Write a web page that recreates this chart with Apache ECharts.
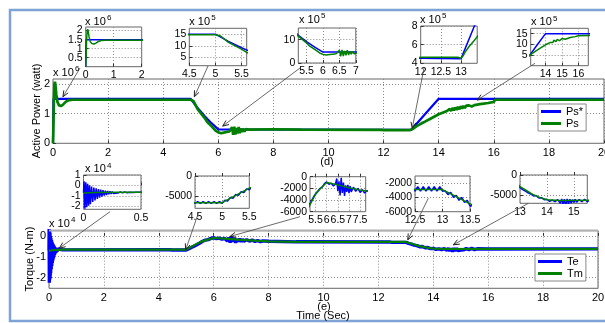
<!DOCTYPE html>
<html lang="en">
<head>
    <meta charset="UTF-8">
    <title>Active power and torque</title>
    <script src="https://cdn.jsdelivr.net/npm/echarts@6/dist/echarts.min.js"></script>
    <style>
        html, body { margin: 0; padding: 0; background: #fff; }
        #main { width: 605px; height: 323px; }
    </style>
</head>
<body>
<div id="main"></div>
<script>
    // time in s, power in W, torque in N-m

    // stator power reference Ps*
    var psRef = [[0, 0], [0.02, 1.5e6], [5, 1.5e6], [5.25, 1.19e6], [5.5, 0.92e6], [5.75, 0.68e6],
        [6, 0.47e6], [13, 0.45e6], [13.5, 0.98e6], [14, 1.5e6], [20, 1.5e6]];

    // measured stator power Ps
    var ps = [[0, 0], [0.01, 0.4e6], [0.03, 1.4e6], [0.05, 1.95e6], [0.07, 2.08e6], [0.09, 1.95e6],
        [0.12, 1.65e6], [0.16, 1.4e6], [0.22, 1.28e6], [0.3, 1.26e6], [0.38, 1.32e6], [0.46, 1.4e6],
        [0.55, 1.45e6], [0.7, 1.47e6], [5, 1.47e6], [5.1, 1.42e6], [5.25, 1.15e6], [5.5, 0.86e6],
        [5.6, 0.72e6], [5.75, 0.58e6], [5.9, 0.43e6], [6, 0.37e6], [6.1, 0.34e6], [6.2, 0.36e6],
        [6.3, 0.38e6], [6.4, 0.4e6], [6.45, 4.0e5], [6.5, 5.4e5], [6.54, 2.9e5], [6.58, 5.6e5],
        [6.62, 3.0e5], [6.66, 5.2e5], [6.7, 3.3e5], [6.74, 5.5e5], [6.78, 3.4e5], [6.82, 5.0e5],
        [6.86, 3.8e5], [6.9, 4.9e5], [6.95, 4.0e5], [7, 4.8e5], [7.05, 4.3e5], [7.1, 4.6e5],
        [8, 4.75e5], [9, 4.6e5], [11.9, 4.55e5], [11.96, 4.62e5], [12, 4.47e5], [12.04, 4.64e5],
        [12.08, 4.47e5], [12.12, 4.64e5], [12.16, 4.47e5], [12.2, 4.64e5], [12.24, 4.47e5],
        [12.28, 4.64e5], [12.32, 4.47e5], [12.36, 4.64e5], [12.4, 4.47e5], [12.44, 4.64e5],
        [12.48, 4.47e5], [12.52, 4.64e5], [12.56, 4.47e5], [12.6, 4.64e5], [12.64, 4.47e5],
        [12.68, 4.64e5], [12.72, 4.47e5], [12.76, 4.64e5], [12.8, 4.47e5], [12.84, 4.64e5],
        [12.88, 4.47e5], [12.92, 4.64e5], [12.96, 4.47e5], [13, 4.55e5], [13.05, 4.8e5],
        [13.1, 5.2e5], [13.2, 5.8e5], [13.3, 6.3e5], [13.4, 6.85e5], [13.5, 7.3e5], [13.7, 8.3e5],
        [14, 9.8e5], [14.3, 10.9e5], [14.4, 11.6e5], [14.45, 10.9e5], [14.5, 11.9e5], [14.55, 11.1e5],
        [14.6, 12.1e5], [14.65, 11.3e5], [14.7, 12.3e5], [14.75, 11.5e5], [14.8, 12.5e5],
        [14.85, 11.7e5], [14.9, 12.6e5], [14.95, 11.9e5], [15, 12.7e5], [15.05, 12.1e5],
        [15.1, 12.8e5], [15.2, 12.4e5], [15.3, 12.9e5], [15.5, 13.2e5], [15.8, 13.6e5],
        [16, 14.0e5], [16.05, 14.7e5], [20, 14.7e5]];

    // electromagnetic torque Te
    var te = [[0, -7000], [0.005, 4000], [0.012, -22500], [0.02, 3000], [0.028, -21000], [0.036, 1500],
        [0.044, -19500], [0.052, 0], [0.06, -18000], [0.07, -1000], [0.08, -16000], [0.09, -2000],
        [0.1, -14500], [0.11, -2800], [0.12, -13000], [0.13, -3500], [0.14, -11800], [0.15, -4000],
        [0.16, -10800], [0.17, -4500], [0.18, -9900], [0.19, -5000], [0.2, -9200], [0.21, -5400],
        [0.22, -8600], [0.23, -5700], [0.24, -8200], [0.25, -5900], [0.26, -7900], [0.27, -6100],
        [0.28, -7600], [0.29, -6200], [0.3, -7400], [0.32, -6300], [0.34, -7200], [0.36, -6400],
        [0.38, -7000], [0.4, -6500], [0.43, -6900], [0.46, -6600], [0.5, -6700], [4.4, -6650],
        [4.45, -6300], [4.5, -6800], [4.55, -6350], [4.6, -6800], [4.65, -6350], [4.7, -6800],
        [4.75, -6350], [4.8, -6800], [4.85, -6350], [4.9, -6800], [4.95, -6350], [5, -6750],
        [5.05, -6000], [5.1, -6200], [5.15, -5300], [5.2, -5500], [5.25, -4600], [5.3, -4800],
        [5.35, -3900], [5.4, -4100], [5.45, -3200], [5.5, -3400], [5.55, -2700], [5.6, -2600],
        [5.7, -2000], [5.8, -1800], [5.9, -1200], [6, -900], [6.1, -1300], [6.2, -1100], [6.3, -1600],
        [6.4, -1200], [6.45, -300], [6.5, -2500], [6.55, -800], [6.6, -3200], [6.65, -200],
        [6.7, -2800], [6.75, -1000], [6.8, -3300], [6.85, -1500], [6.9, -2600], [6.95, -1400],
        [7, -2800], [7.05, -1600], [7.1, -2600], [7.2, -1800], [7.3, -2500], [7.4, -2000],
        [7.5, -2700], [7.6, -2200], [7.7, -2800], [7.8, -2400], [8, -2600], [9, -2850], [12.4, -2900],
        [12.45, -2500], [12.5, -3100], [12.55, -2500], [12.6, -3100], [12.65, -2500], [12.7, -3100],
        [12.75, -2500], [12.8, -3100], [12.85, -2500], [12.9, -3100], [12.95, -2500], [13, -3100],
        [13.05, -3100], [13.1, -3600], [13.15, -3300], [13.2, -4000], [13.25, -3700], [13.3, -4400],
        [13.35, -4000], [13.4, -4700], [13.45, -4400], [13.5, -5200], [13.6, -5100], [13.7, -5700],
        [13.8, -5600], [13.9, -6100], [14, -6000], [14.1, -6500], [14.2, -6200], [14.3, -6600],
        [14.4, -6100], [14.5, -7000], [14.55, -5900], [14.6, -7300], [14.65, -6000], [14.7, -7500],
        [14.75, -5900], [14.8, -7200], [14.85, -6000], [14.9, -7000], [14.95, -6100], [15, -6800],
        [15.05, -6000], [15.1, -6700], [15.2, -6100], [15.3, -6600], [15.4, -6000], [15.5, -6600],
        [15.6, -6200], [16, -6300], [20, -6250]];

    // mechanical torque Tm
    var tm = [[0, -7200], [0.1, -6900], [0.3, -6700], [0.5, -6600], [5, -6600], [5.25, -4800],
        [5.5, -3000], [5.75, -1900], [6, -1000], [6.5, -1400], [7, -1900], [7.5, -2300], [8, -2600],
        [9, -2850], [13, -2900], [13.25, -3900], [13.5, -4900], [13.75, -5600], [14, -6100],
        [14.5, -6300], [16, -6250], [20, -6250]];

    // tick values (main plots, then insets top row, then insets bottom row)
    var mainTicksX = [0, 2, 4, 6, 8, 10, 12, 14, 16, 18, 20];
    var powerTicksY = [0, 1e6, 2e6];
    var torqueTicksY = [-2e4, -1e4, 0];
    var insetTicksX = [[0, 1, 2], [4.5, 5, 5.5], [5.5, 6, 6.5, 7], [12, 12.5, 13], [14, 15, 16],
        [0, 0.5], [4.5, 5, 5.5], [5.5, 6, 6.5, 7, 7.5], [12.5, 13, 13.5], [13, 14, 15]];
    var insetTicksY = [[5e5, 1e6, 1.5e6, 2e6], [5e5, 1e6, 1.5e6], [0, 1e6], [4e5, 6e5, 8e5], [5e5, 1e6, 1.5e6],
        [-2e4, -1e4, 0, 1e4], [-5000, 0], [-6000, -4000, -2000, 0], [-6000, -4000, -2000], [-5000, 0]];

    var FONT = 'Liberation Sans, Arial, sans-serif';
    var BLUE = '#0000ff', GREEN = '#008000';

    // layout: grid box [left, top, width, height], x range, y range, label scale
    var panels = [
        {box: [53, 79, 551, 64.3], x: [0, 20], y: [0, 2.17e6], xt: mainTicksX, yt: powerTicksY, k: 1e6, kind: 'p', lw: [2.2, 2.7]},
        {box: [49, 230.7, 549, 57.6], x: [0, 20], y: [-2.52e4, 0.25e4], xt: mainTicksX, yt: torqueTicksY, k: 1e4, kind: 't', lw: [3.4, 2.2]},
        {box: [85.7, 27, 56, 39.7], x: [0, 2], y: [0, 2.2e6], k: 1e6, kind: 'p'},
        {box: [189.3, 28.3, 57.4, 37.4], x: [4.5, 5.6], y: [1.5e5, 17.5e5], k: 1e5, kind: 'p'},
        {box: [298.3, 28, 57.5, 35], x: [5.25, 7], y: [0, 15e5], k: 1e5, kind: 'p'},
        {box: [420.7, 26, 56.5, 37.3], x: [12, 13.4], y: [4e5, 8e5], k: 1e5, kind: 'p'},
        {box: [530.7, 28.3, 57.6, 37.4], x: [13.1, 16.6], y: [0, 17.5e5], k: 1e5, kind: 'p'},
        {box: [83.5, 175, 57.5, 34.3], x: [0, 0.5], y: [-2.3e4, 1e4], k: 1e4, kind: 't'},
        {box: [195, 176, 54.3, 32.3], x: [4.5, 5.5], y: [-8000, 0], k: 1, kind: 't'},
        {box: [310, 176.7, 55.7, 35], x: [5.25, 7.75], y: [-6000, 0], k: 1, kind: 't'},
        {box: [415, 176, 55, 35.7], x: [12.5, 13.5], y: [-6000, -1000], k: 1, kind: 't'},
        {box: [520, 175, 67.3, 28.3], x: [13, 15.5], y: [-7000, 0], k: 1, kind: 't'}
    ];
    panels.forEach(function (p, i) {
        if (i >= 2) {
            p.xt = insetTicksX[i - 2];
            p.yt = insetTicksY[i - 2];
            p.lw = [1.5, 1.5];
        }
    });

    function fmt(k) {
        return function (v) { return String(+(v / k).toFixed(3)); };
    }

    var grids = [], xAxes = [], yAxes = [], series = [];
    panels.forEach(function (p, i) {
        grids.push({
            left: p.box[0], top: p.box[1], width: p.box[2], height: p.box[3],
            show: true, backgroundColor: '#fff', borderColor: '#666', borderWidth: 1,
            outerBoundsMode: 'none', containLabel: false
        });
        var common = {
            gridIndex: i,
            axisLine: {show: false},
            axisTick: {show: true, inside: true, length: 3, lineStyle: {color: '#333'}},
            splitLine: {show: true, lineStyle: {color: '#8a8a8a', width: 1, type: [1, 2]}},
            axisLabel: {fontFamily: FONT, fontSize: i < 2 ? 11 : 10.5, color: '#000', margin: 3,
                interval: 0, hideOverlap: false, showMinLabel: true, showMaxLabel: true},
            splitArea: {show: false}
        };
        xAxes.push(echarts.util.merge({
            type: 'value', min: p.x[0], max: p.x[1],
            axisTick: {customValues: p.xt},
            axisLabel: {customValues: p.xt, formatter: fmt(1), margin: i < 2 ? 4 : 3}
        }, common));
        // inset y labels are crowded: they are placed below through the same axis scale
        yAxes.push(echarts.util.merge({
            type: 'value', min: p.y[0], max: p.y[1],
            axisTick: {customValues: p.yt},
            axisLabel: {show: i < 2, customValues: p.yt, formatter: fmt(p.k)}
        }, common));

        var pair = p.kind === 'p'
            ? [['Ps*', psRef, BLUE], ['Ps', ps, GREEN]]
            : [['Te', te, BLUE], ['Tm', tm, GREEN]];
        pair.forEach(function (s, j) {
            series.push({
                name: s[0], type: 'line', xAxisIndex: i, yAxisIndex: i,
                data: s[1], showSymbol: false, symbol: 'none', clip: true,
                lineStyle: {color: s[2], width: p.lw[j]}, itemStyle: {color: s[2]},
                emphasis: {disabled: true}, animation: false
            });
        });
    });

    function legendAt(names, left, top, w) {
        return {
            data: names, left: left, top: top, orient: 'vertical', icon: 'rect',
            itemWidth: w, itemHeight: 3, itemGap: 1, padding: [2, 3, 2, 3],
            borderColor: '#888', borderWidth: 1, backgroundColor: '#fff',
            selectedMode: false, textStyle: {fontFamily: FONT, fontSize: 11, color: '#000'}
        };
    }

    var chart = echarts.init(document.getElementById('main'), null, {renderer: 'canvas'});
    chart.setOption({
        animation: false,
        backgroundColor: '#fff',
        grid: grids,
        xAxis: xAxes,
        yAxis: yAxes,
        legend: [legendAt(['Ps*', 'Ps'], 538, 104, 20), legendAt(['Te', 'Tm'], 535, 254, 24)],
        series: series
    });

    // annotation: arrows from insets to main curves (start in px, tip in data)
    var arrows = [
        [80, 68, 0, [0.36, 1.57e6]], [208, 66, 0, [5.13, 1.57e6]], [300, 68, 0, [6.16, 0.58e6]],
        [424, 68, 0, [13.04, 0.51e6]], [535, 63.3, 0, [15.4, 1.46e6]],
        [110, 211.7, 1, [0.375, -0.59e4]], [198.3, 213.3, 1, [4.98, -0.67e4]], [300, 216.7, 1, [6.59, -0.03e4]],
        [428.3, 198.3, 1, [13.07, -0.19e4]], [528.3, 203.3, 1, [14.73, -0.43e4]]
    ];
    var exps = [
        [53, 73, '6'], [85, 21.7, '6'], [189.3, 21.7, '5'], [299, 20, '5'], [420, 19.5, '5'], [531, 22.3, '5'],
        [49, 224, '4'], [85, 169.3, '4']
    ];

    var g = [];
    g.push({type: 'rect', shape: {x: 10, y: 10, width: 605, height: 311}, silent: true,
        style: {fill: 'none', stroke: '#7ea3d4', lineWidth: 2.5}});
    g.push({type: 'line', shape: {x1: 49, y1: 230.5, x2: 598, y2: 230.5}, silent: true,
        style: {stroke: '#b0b0b0', lineWidth: 2}, z: 10});

    // inset y tick labels
    panels.forEach(function (p, i) {
        if (i < 2) return;
        var f = fmt(p.k);
        p.yt.forEach(function (v) {
            var pt = chart.convertToPixel({gridIndex: i}, [p.x[0], v]);
            g.push({type: 'text', x: pt[0] - 3, y: pt[1], z: 20, silent: true,
                style: {text: f(v), fontFamily: FONT, fontSize: 10.5, fill: '#000', align: 'right', verticalAlign: 'middle'}});
        });
    });

    arrows.forEach(function (a) {
        var tip = chart.convertToPixel({gridIndex: a[2]}, a[3]);
        var dx = tip[0] - a[0], dy = tip[1] - a[1];
        var len = Math.sqrt(dx * dx + dy * dy);
        var ux = dx / len, uy = dy / len;
        var bx = tip[0] - ux * 6, by = tip[1] - uy * 6;
        g.push({type: 'line', shape: {x1: a[0], y1: a[1], x2: tip[0], y2: tip[1]}, z: 20, silent: true,
            style: {stroke: '#444', lineWidth: 0.8}});
        g.push({type: 'polyline', z: 20, silent: true,
            shape: {points: [[bx - uy * 2.5, by + ux * 2.5], tip, [bx + uy * 2.5, by - ux * 2.5]]},
            style: {stroke: '#222', lineWidth: 1, fill: 'none'}});
    });
    exps.forEach(function (e) {
        g.push({type: 'text', x: e[0], y: e[1], z: 20, silent: true,
            style: {text: 'x 10', fontFamily: FONT, fontSize: 11, fill: '#000', verticalAlign: 'middle'}});
        g.push({type: 'text', x: e[0] + 22, y: e[1] - 4, z: 20, silent: true,
            style: {text: e[2], fontFamily: FONT, fontSize: 8, fill: '#000', verticalAlign: 'middle'}});
    });
    g.push({type: 'text', x: 37, y: 111, rotation: Math.PI / 2, silent: true,
        style: {text: 'Active Power (watt)', fontFamily: FONT, fontSize: 11, fill: '#000', align: 'center', verticalAlign: 'middle'}});
    g.push({type: 'text', x: 30, y: 259, rotation: Math.PI / 2, silent: true,
        style: {text: 'Torque (N-m)', fontFamily: FONT, fontSize: 11, fill: '#000', align: 'center', verticalAlign: 'middle'}});
    g.push({type: 'text', x: 327, y: 162, silent: true,
        style: {text: '(d)', fontFamily: FONT, fontSize: 11, fill: '#000', align: 'center', verticalAlign: 'middle'}});
    g.push({type: 'text', x: 324, y: 306.5, silent: true,
        style: {text: '(e)', fontFamily: FONT, fontSize: 11, fill: '#000', align: 'center', verticalAlign: 'middle'}});
    g.push({type: 'text', x: 323, y: 316, silent: true,
        style: {text: 'Time (Sec)', fontFamily: FONT, fontSize: 11, fill: '#000', align: 'center', verticalAlign: 'middle'}});

    chart.setOption({graphic: g});
</script>
</body>
</html>
